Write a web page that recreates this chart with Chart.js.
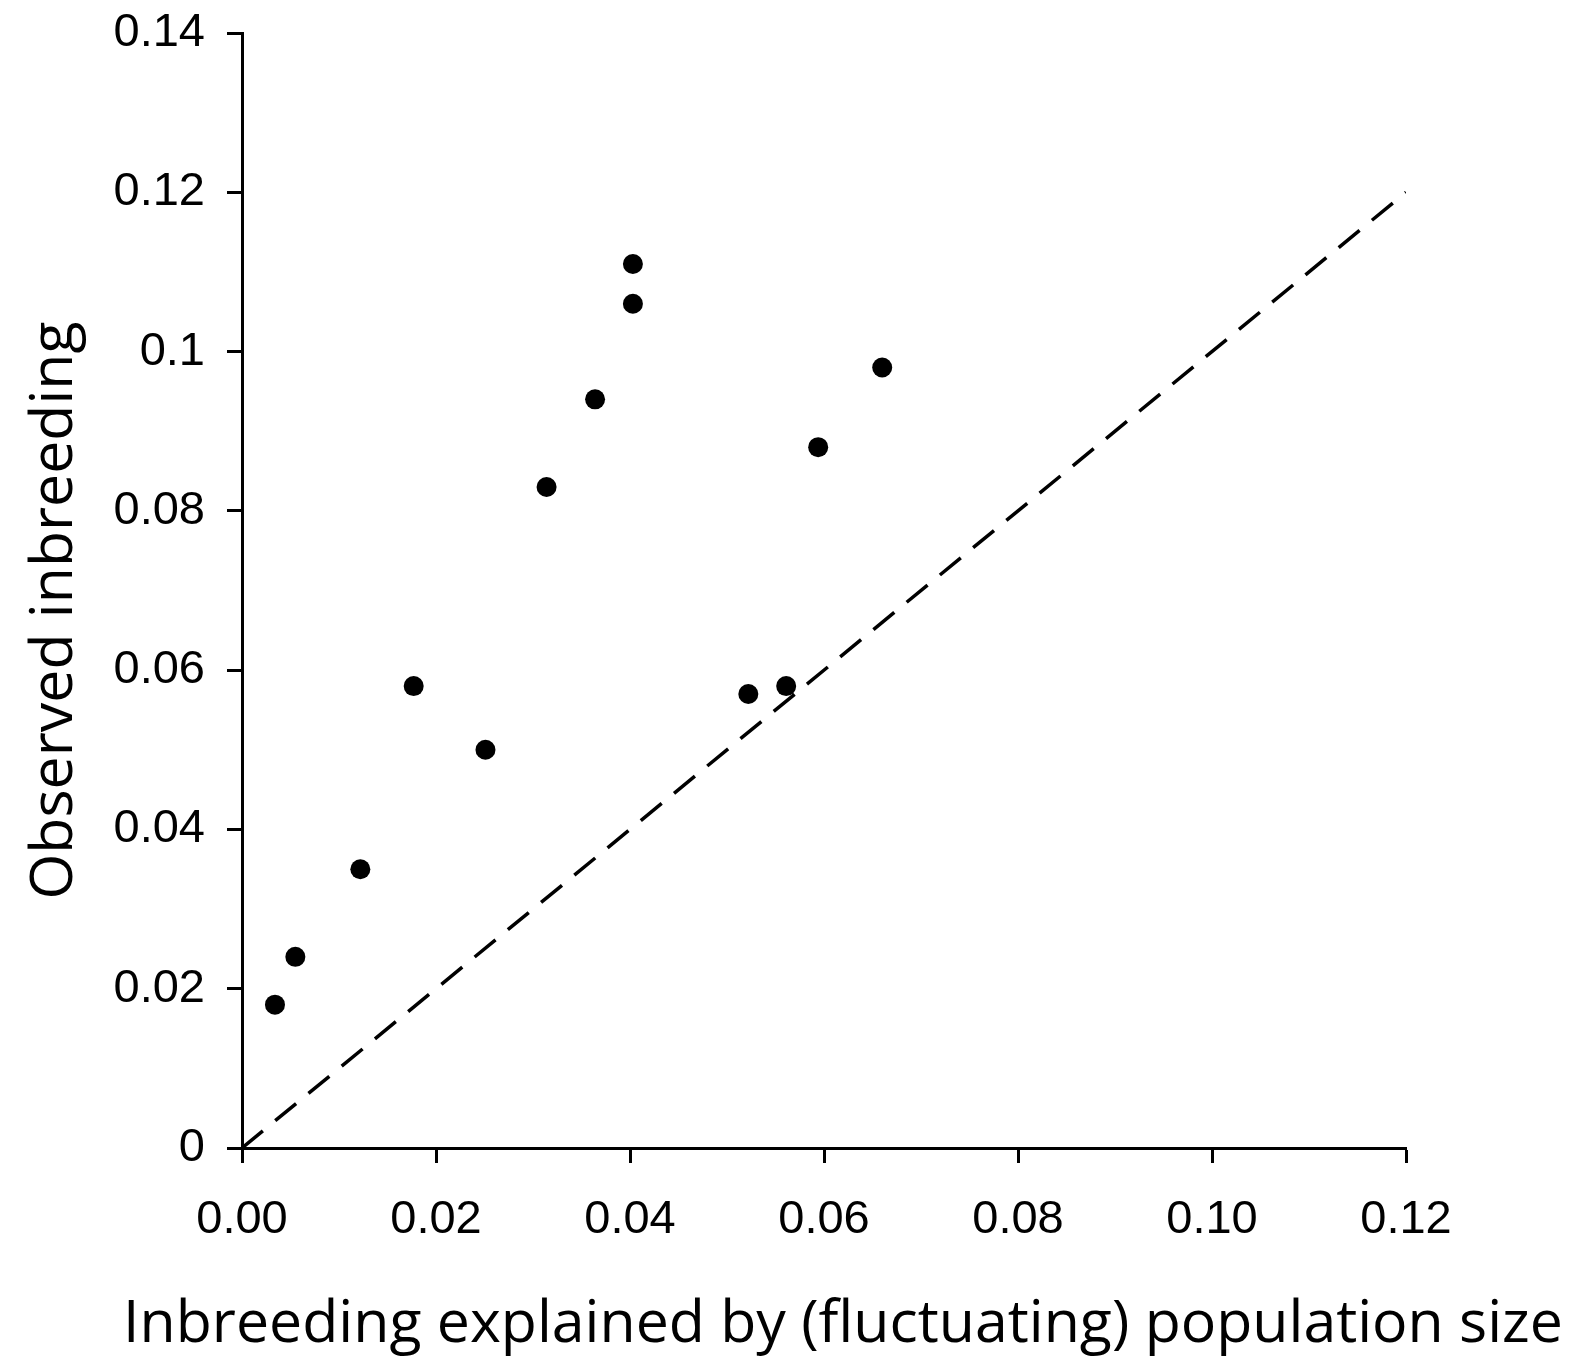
<!DOCTYPE html>
<html>
<head>
<meta charset="utf-8">
<title>Observed vs. expected inbreeding</title>
<script src="https://cdn.jsdelivr.net/npm/chart.js@4.4.1/dist/chart.umd.min.js"></script>
<style>
  html, body { margin: 0; padding: 0; background: #fff; }
  #wrap { position: relative; width: 1580px; height: 1357px; }
</style>
</head>
<body>
<div id="wrap"><canvas id="chart-inbreeding"></canvas></div>
<script>
// Inbreeding explained by population size (x) vs. observed inbreeding (y)
const expectedF = [0.0034, 0.0055, 0.0122, 0.0177, 0.0251, 0.0314, 0.0364, 0.0403, 0.0403, 0.0522, 0.0561, 0.0594, 0.0660];
const observedF = [0.018, 0.024, 0.035, 0.058, 0.050, 0.083, 0.094, 0.111, 0.106, 0.057, 0.058, 0.088, 0.098];

// 1:1 reference line
const refLineX = [0, 0.12];
const refLineY = [0, 0.12];

const xTickLabels = ['0.00', '0.02', '0.04', '0.06', '0.08', '0.10', '0.12'];
const yTickLabels = ['0', '0.02', '0.04', '0.06', '0.08', '0.1', '0.12', '0.14'];

const xTitle = 'Inbreeding explained by (fluctuating) population size';
const yTitle = 'Observed inbreeding';

const tickFont = { family: '"Liberation Sans", Arial, sans-serif', size: 47 };

// Axis titles are wider than the plot, so they're drawn here instead of via scale.title
// (scale titles get squeezed to the axis length).
const axisTitles = {
  id: 'axisTitles',
  afterDraw(chart, args, opts) {
    const { ctx, chartArea } = chart;
    const midX = (chartArea.left + chartArea.right) / 2;
    const midY = (chartArea.top + chartArea.bottom) / 2;
    ctx.save();
    ctx.fillStyle = '#000';
    ctx.font = `${opts.size}px ${opts.family}`;
    ctx.textAlign = 'center';
    ctx.textBaseline = 'alphabetic';
    ctx.fillText(xTitle, midX + opts.xShift, opts.xBaseline);
    ctx.translate(opts.yBaseline, midY + opts.yShift);
    ctx.rotate(-Math.PI / 2);
    ctx.fillText(yTitle, 0, 0);
    ctx.restore();
  }
};

const axisStyle = (tickLength) => ({
  border: { display: true, color: '#000', width: 3 },
  grid: { display: true, drawOnChartArea: false, drawTicks: true, tickLength, tickWidth: 3, tickColor: '#000' },
});

new Chart(document.getElementById('chart-inbreeding'), {
  type: 'scatter',
  plugins: [axisTitles],
  data: {
    datasets: [
      {
        type: 'line',
        label: '1:1',
        data: refLineX.map((x, i) => ({ x, y: refLineY[i] })),
        borderColor: '#000',
        borderWidth: 3.5,
        borderDash: [27, 16],
        borderCapStyle: 'butt',
        pointRadius: 0,
        fill: false,
        tension: 0,
      },
      {
        label: 'Populations',
        data: expectedF.map((x, i) => ({ x, y: observedF[i] })),
        backgroundColor: '#000',
        borderWidth: 0,
        pointRadius: 10,
        pointHoverRadius: 10,
      }
    ]
  },
  options: {
    responsive: true,
    maintainAspectRatio: false,
    animation: false,
    events: [],
    layout: { padding: { top: 33, right: 174, bottom: 0, left: 0 } },
    plugins: {
      legend: { display: false },
      tooltip: { enabled: false },
      axisTitles: {
        family: '"Open Sans", sans-serif',
        size: 59,
        xBaseline: 1342,
        xShift: 19,
        yBaseline: 72,
        yShift: 20,
      }
    },
    scales: {
      x: {
        type: 'linear',
        min: 0,
        max: 0.12,
        ...axisStyle(15),
        afterFit: (scale) => { scale.height = 209; },
        ticks: {
          stepSize: 0.02,
          color: '#000',
          font: tickFont,
          padding: 29,
          maxRotation: 0,
          callback: (value, index) => xTickLabels[index],
        }
      },
      y: {
        type: 'linear',
        min: 0,
        max: 0.14,
        ...axisStyle(15),
        afterFit: (scale) => {
          scale.width = 242;
          scale.paddingTop = 0;
          scale.paddingBottom = 0;
        },
        ticks: {
          stepSize: 0.02,
          color: '#000',
          font: tickFont,
          padding: 22,
          callback: (value, index) => yTickLabels[index],
        }
      }
    }
  }
});
</script>
</body>
</html>
